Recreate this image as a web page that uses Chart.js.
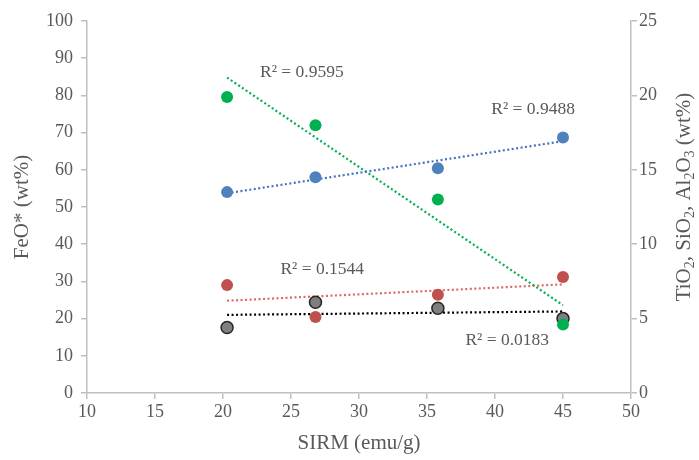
<!DOCTYPE html>
<html>
<head>
<meta charset="utf-8">
<script src="https://cdn.jsdelivr.net/npm/chart.js@4/dist/chart.umd.min.js"></script>
<style>
  html, body { margin: 0; padding: 0; background: #fff; }
  #wrap { width: 699px; height: 460px; }
</style>
</head>
<body>
<div id="wrap"><canvas id="chart"></canvas></div>
<script>
// SIRM values (x) for the four samples
const sirm = [20.3, 26.8, 35.8, 45.0];

// FeO* on left axis
const feo = [54.0, 58.0, 60.4, 68.7];
// right axis series (wt%)
const green = [19.9, 18.0, 13.0, 4.6];
const red = [7.25, 5.1, 6.6, 7.8];
const gray = [4.4, 6.1, 5.7, 5.0];

// trendline ends, at first and last x
const trendX = [20.3, 45.0];
const feoTrend = [53.7, 67.7];
const greenTrend = [21.2, 5.9];
const redTrend = [6.2, 7.3];
const grayTrend = [5.25, 5.48];

// R² labels: text, x, y (left-axis units)
const r2Text = ['R² = 0.9595', 'R² = 0.9488', 'R² = 0.1544', 'R² = 0.0183'];
const r2X = [25.8, 42.8, 27.3, 40.9];
const r2Y = [86.3, 76.3, 33.3, 14.2];

const xTicks = [10, 15, 20, 25, 30, 35, 40, 45, 50];

const txt = '#595959';
const axisCol = '#bfbfbf';
const serif = '"Liberation Serif", "Times New Roman", serif';
const font = { family: serif, size: 18 };
const titleFont = { family: serif, size: 21 };

function pts(xs, ys) {
  return xs.map((x, i) => ({ x: x, y: ys[i] }));
}

function trend(ys, col, axis) {
  return {
    data: pts(trendX, ys),
    yAxisID: axis,
    showLine: true,
    borderColor: col,
    borderWidth: 2.2,
    borderDash: [2, 2.5],
    pointRadius: 0,
    fill: false
  };
}

function dots(ys, col, axis, border) {
  return {
    data: pts(sirm, ys),
    yAxisID: axis,
    backgroundColor: col,
    borderColor: border || col,
    borderWidth: border ? 1.5 : 0,
    pointRadius: 6,
    pointHoverRadius: 6
  };
}

// draw text made of [string, isSubscript] pieces, rotated -90, centred at cx, cy
function drawRotated(ctx, cx, cy, parts) {
  const big = '21px ' + serif, small = '14px ' + serif;
  let total = 0;
  parts.forEach(p => { ctx.font = p[1] ? small : big; total += ctx.measureText(p[0]).width; });
  ctx.save();
  ctx.translate(cx, cy);
  ctx.rotate(-Math.PI / 2);
  ctx.fillStyle = txt;
  ctx.textBaseline = 'middle';
  ctx.textAlign = 'left';
  let x = -total / 2;
  parts.forEach(p => {
    ctx.font = p[1] ? small : big;
    ctx.fillText(p[0], x, p[1] ? 6 : 0);
    x += ctx.measureText(p[0]).width;
  });
  ctx.restore();
}

const extras = {
  id: 'extras',
  afterDatasetsDraw(c) {
    const ctx = c.ctx;
    ctx.save();
    ctx.font = '17.5px ' + serif;
    ctx.fillStyle = txt;
    ctx.textAlign = 'center';
    ctx.textBaseline = 'middle';
    r2Text.forEach((t, i) => {
      ctx.fillText(t, c.scales.x.getPixelForValue(r2X[i]), c.scales.y.getPixelForValue(r2Y[i]));
    });
    ctx.restore();
    const area = c.chartArea;
    drawRotated(ctx, 22, (area.top + area.bottom) / 2, [['FeO* (wt%)', 0]]);
    drawRotated(ctx, 684, (area.top + area.bottom) / 2 - 10, [
      ['TiO', 0], ['2', 1], [', SiO', 0], ['2', 1], [', Al', 0], ['2', 1], ['O', 0], ['3', 1], [' (wt%)', 0]
    ]);
  }
};

new Chart(document.getElementById('chart'), {
  type: 'scatter',
  data: {
    datasets: [
      dots(feo, '#4f81bd', 'y'),
      dots(green, '#00b050', 'y1'),
      dots(red, '#c0504d', 'y1'),
      dots(gray, '#7f7f7f', 'y1', '#262626'),
      trend(feoTrend, '#4472c4', 'y'),
      trend(greenTrend, '#00b050', 'y1'),
      trend(redTrend, '#e06666', 'y1'),
      trend(grayTrend, '#000000', 'y1')
    ]
  },
  options: {
    responsive: true,
    maintainAspectRatio: false,
    animation: false,
    layout: { padding: { top: 21, left: 0, right: 0, bottom: 0 } },
    plugins: { legend: { display: false }, tooltip: { enabled: false } },
    scales: {
      x: {
        type: 'linear',
        min: 10, max: 50,
        afterBuildTicks: s => { s.ticks = xTicks.map(v => ({ value: v })); },
        afterFit: s => { s.height = 67; },
        border: { color: axisCol, width: 1.5 },
        grid: { drawOnChartArea: false, color: axisCol, tickLength: 6, lineWidth: 1.5 },
        ticks: { color: txt, font: font, padding: 2, maxRotation: 0 },
        title: { display: true, text: 'SIRM (emu/g)', color: txt, font: titleFont, padding: { top: 0 } }
      },
      y: {
        position: 'left',
        min: 0, max: 100,
        ticks: { stepSize: 10, color: txt, font: font, padding: 8 },
        afterFit: s => { s.width = 87; },
        border: { color: axisCol, width: 1.5 },
        grid: { drawOnChartArea: false, color: axisCol, tickLength: 6, lineWidth: 1.5 }
      },
      y1: {
        position: 'right',
        min: 0, max: 25,
        ticks: { stepSize: 5, color: txt, font: font, padding: 2 },
        afterFit: s => { s.width = 68; },
        border: { color: axisCol, width: 1.5 },
        grid: { drawOnChartArea: false, color: axisCol, tickLength: 6, lineWidth: 1.5 }
      }
    }
  },
  plugins: [extras]
});
</script>
</body>
</html>
